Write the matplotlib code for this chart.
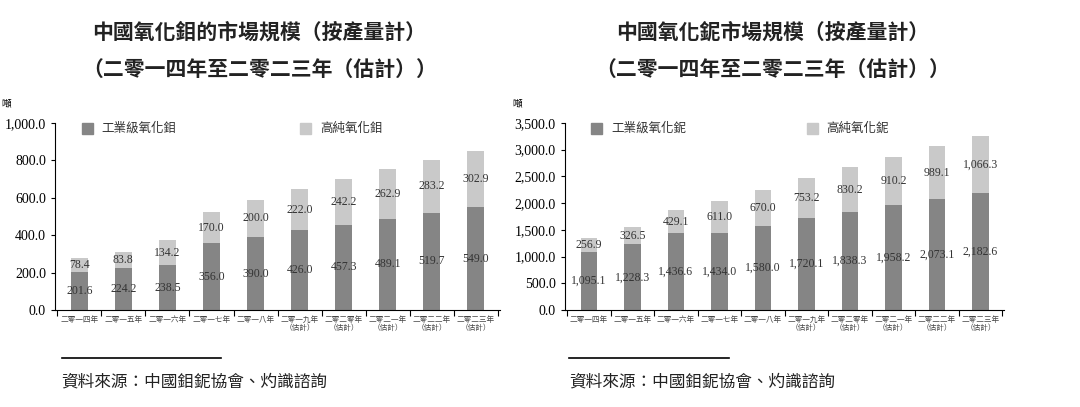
import matplotlib
matplotlib.use("Agg")
import matplotlib.pyplot as plt
import numpy as np

plt.rcParams['font.family'] = ['Liberation Serif', 'Noto Sans CJK TC']

years = ['二零一四年', '二零一五年', '二零一六年', '二零一七年', '二零一八年',
         '二零一九年\n（估計）', '二零二零年\n（估計）', '二零二一年\n（估計）',
         '二零二二年\n（估計）', '二零二三年\n（估計）']
y_ind = [201.6, 224.2, 238.5, 356.0, 390.0, 426.0, 457.3, 489.1, 519.7, 549.0]
y_high = [78.4, 83.8, 134.2, 170.0, 200.0, 222.0, 242.2, 262.9, 283.2, 302.9]
n_ind = [1095.1, 1228.3, 1436.6, 1434.0, 1580.0, 1720.1, 1838.3, 1958.2, 2073.1, 2182.6]
n_high = [256.9, 326.5, 429.1, 611.0, 670.0, 753.2, 830.2, 910.2, 989.1, 1066.3]

DARK = '#858585'
LIGHT = '#c9c9c9'

fig = plt.figure(figsize=(10.8, 4.07), dpi=100)

def panel(rect, ind, high, ymax, step, leg1, leg2, title, tx):
    ax = fig.add_axes(rect)
    x = np.arange(len(ind))
    ax.bar(x, ind, width=0.38, color=DARK)
    ax.bar(x, high, bottom=ind, width=0.38, color=LIGHT)
    for xi, a, b in zip(x, ind, high):
        ax.text(xi, a / 2, f'{a:,.1f}', ha='center', va='center', fontsize=8.5, color='#333333')
        ax.text(xi, a + b / 2, f'{b:,.1f}', ha='center', va='center', fontsize=8.5, color='#333333')
    ax.set_xlim(-0.55, len(ind) - 0.45)
    ax.set_ylim(0, ymax)
    ax.set_yticks(np.arange(0, ymax + 1, step))
    ax.set_yticklabels([f'{v:,.1f}' for v in np.arange(0, ymax + 1, step)], fontsize=10)
    ax.set_xticks(np.arange(-0.5, len(ind), 1.0))
    ax.set_xticklabels([])
    ax.set_xticks(x, minor=True)
    ax.set_xticklabels(years, minor=True, fontsize=5.5, color='#444444',
                       family=['Noto Sans CJK TC'], linespacing=1.1)
    ax.tick_params(axis='x', which='minor', length=0, pad=4)
    ax.tick_params(axis='x', which='major', length=4, direction='out')
    ax.tick_params(axis='y', length=3)
    for s in ['top', 'right']:
        ax.spines[s].set_visible(False)
    ax.text(-0.12, 1.09, '噸', transform=ax.transAxes, fontsize=7, family=['Noto Sans CJK TC'])
    ax.add_patch(plt.Rectangle((0.06, 0.94), 0.025, 0.06, transform=ax.transAxes, color=DARK, clip_on=False))
    ax.text(0.105, 0.97, leg1, transform=ax.transAxes, fontsize=9, va='center',
            family=['Noto Sans CJK TC'], color='#333333')
    ax.add_patch(plt.Rectangle((0.55, 0.94), 0.025, 0.06, transform=ax.transAxes, color=LIGHT, clip_on=False))
    ax.text(0.595, 0.97, leg2, transform=ax.transAxes, fontsize=9, va='center',
            family=['Noto Sans CJK TC'], color='#333333')
    fig.text(tx, 0.92, title[0], ha='center', va='center', fontsize=15, fontweight='bold',
             family=['Noto Sans CJK TC'], color='#222222')
    fig.text(tx, 0.83, title[1], ha='center', va='center', fontsize=15, fontweight='bold',
             family=['Noto Sans CJK TC'], color='#222222')
    return ax

panel([0.051, 0.238, 0.412, 0.46], y_ind, y_high, 1000, 200, '工業級氧化鉬', '高純氧化鉬',
      ('中國氧化鉬的市場規模（按產量計）', '（二零一四年至二零二三年（估計））'), 0.24)
panel([0.523, 0.238, 0.407, 0.46], n_ind, n_high, 3500, 500, '工業級氧化鈮', '高純氧化鈮',
      ('中國氧化鈮市場規模（按產量計）', '（二零一四年至二零二三年（估計））'), 0.715)

for x0 in (0.057, 0.527):
    fig.add_artist(plt.Line2D([x0, x0 + 0.148], [0.12, 0.12], color='black', lw=1.2))
fig.text(0.057, 0.05, '資料來源：中國鉬鈮協會、灼識諮詢', fontsize=12, style='italic',
         family=['Noto Sans CJK TC'], color='#222222')
fig.text(0.527, 0.05, '資料來源：中國鉬鈮協會、灼識諮詢', fontsize=12, style='italic',
         family=['Noto Sans CJK TC'], color='#222222')

fig.savefig('out.png', dpi=100)
